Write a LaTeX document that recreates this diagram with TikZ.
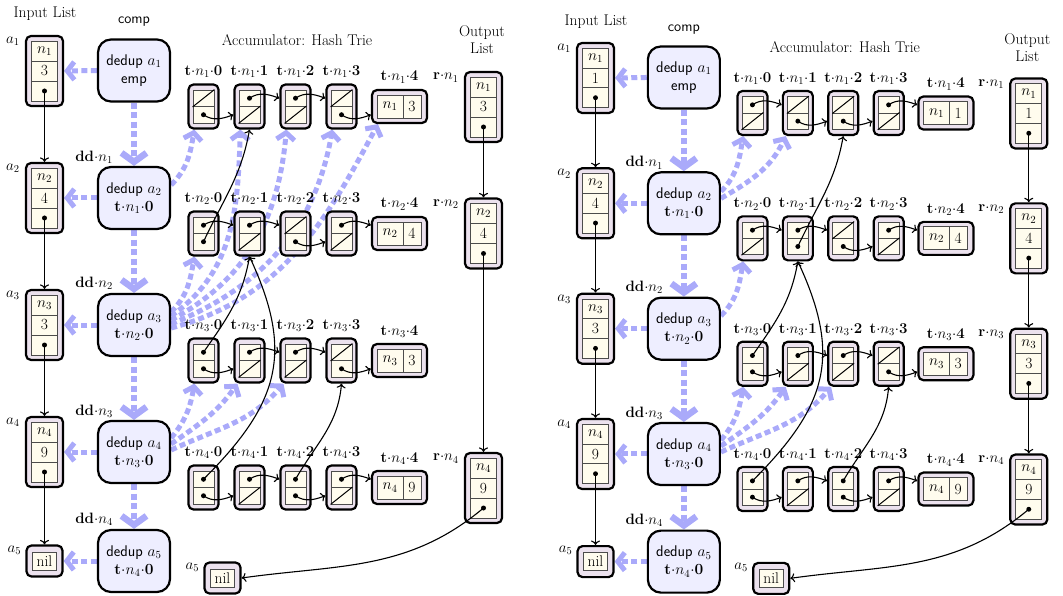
\RequirePackage{fix-cm}
\documentclass[tikz,border=0pt]{standalone}
\usetikzlibrary{arrows.meta}
\pgfdeclarelayer{bg}
\pgfsetlayers{bg,main}
\definecolor{lav}{RGB}{236,226,238}
\definecolor{cream}{RGB}{255,252,238}
\definecolor{ddfill}{RGB}{238,238,255}
\definecolor{dblue}{RGB}{170,170,250}
\tikzset{
  obox/.style={draw,line width=2.2pt,rounded corners=5pt,fill=lav,inner sep=0pt},
  cellst/.style={draw=black!70,line width=0.8pt,fill=cream,inner sep=0pt,font=\fontsize{15.5}{15.5}\selectfont},
  ddbox/.style={draw,line width=2.2pt,rounded corners=13pt,fill=ddfill,minimum width=72pt,minimum height=62pt,align=center,inner sep=0pt,font=\sffamily\fontsize{15.5}{18}\selectfont},
  lbl/.style={inner sep=0pt,font=\fontsize{15}{16}\selectfont},
  ttl/.style={inner sep=0pt,align=center,font=\fontsize{15.5}{17}\selectfont},
  ptr/.style={line width=1.1pt,-{To[length=4.5pt,width=9pt]}},
  dsh/.style={draw=dblue,line width=5pt,dash pattern=on 6pt off 3.5pt,-{Straight Barb[length=7pt,width=18pt]}},
  dshv/.style={dsh,line width=6.5pt,-{Straight Barb[length=9pt,width=25pt]}},
  slashst/.style={line width=1pt},
}
\newcommand\tlab[2]{$\mathbf{t}{\cdot}n_{#1}{\cdot}\mathbf{#2}$}
\newcommand\rlab[1]{$\mathbf{r}{\cdot}n_{#1}$}
% list box: name, x, y, side label, n index, value
\newcommand\listbox[6]{%
  \node[obox,minimum width=37pt,minimum height=70pt] (#1) at (#2,-#3) {};
  \node[cellst,minimum width=26pt,minimum height=20pt] (#1-h) at (#2,-#3+20) {$n_{#5}$};
  \node[cellst,minimum width=26pt,minimum height=20pt] (#1-v) at (#2,-#3) {#6};
  \node[cellst,minimum width=26pt,minimum height=20pt] (#1-p) at (#2,-#3-20) {};
  \fill (#1-p.center) circle (2.5pt);
  \node[lbl,anchor=north east] (#1-l) at ([xshift=-5pt,yshift=-2pt]#1.north west) {#4};
}
\newcommand\nilbox[4]{%
  \node[obox,minimum width=36pt,minimum height=31pt] (#1) at (#2,-#3) {};
  \node[cellst,minimum width=24pt,minimum height=18pt] (#1-c) at (#2,-#3) {nil};
  \node[lbl,anchor=north east] (#1-l) at ([xshift=-4pt,yshift=-1pt]#1.north west) {#4};
}
% trie node: name, x, y, label, top (1 dot / 0 slash), bottom
\newcommand\tnode[6]{%
  \node[obox,minimum width=30pt,minimum height=44pt] (#1) at (#2,-#3) {};
  \node[cellst,minimum width=21pt,minimum height=16.5pt] (#1-a) at (#2,-#3+8.25) {};
  \node[cellst,minimum width=21pt,minimum height=16.5pt] (#1-b) at (#2,-#3-8.25) {};
  \ifnum#5=1\relax \fill (#1-a.center) circle (2.5pt);\else \draw[slashst] (#1-a.south west) -- (#1-a.north east);\fi
  \ifnum#6=1\relax \fill (#1-b.center) circle (2.5pt);\else \draw[slashst] (#1-b.south west) -- (#1-b.north east);\fi
  \node[lbl,anchor=base] (#1-l) at (#2,-#3+22+9) {#4};
}
% leaf: name, x, y, label, n index, value
\newcommand\tleaf[6]{%
  \node[obox,minimum width=55pt,minimum height=33pt] (#1) at (#2,-#3) {};
  \node[cellst,minimum width=26pt,minimum height=23pt] (#1-h) at (#2-9.5,-#3) {$n_{#5}$};
  \node[cellst,minimum width=18pt,minimum height=23pt] (#1-v) at (#2+12.5,-#3) {#6};
  \node[lbl,anchor=base] (#1-l) at (#2,-#3+16.5+9) {#4};
}
\newcommand\panel[5]{%
  \node[ttl] (#1-tin) at (45,-14) {Input List};
  \node[lbl,font=\sffamily\fontsize{14.5}{16}\selectfont] (#1-tcomp) at (134,-22) {comp};
  \node[ttl] (#1-tacc) at (297,-40) {Accumulator: Hash Trie};
  \node[ttl] (#1-tout) at (482,-40) {Output\\List};
  \listbox{#1a1}{44.5}{71}{$a_1$}{1}{#2}
  \listbox{#1a2}{44.5}{198}{$a_2$}{2}{#3}
  \listbox{#1a3}{44.5}{325}{$a_3$}{3}{#4}
  \listbox{#1a4}{44.5}{452}{$a_4$}{4}{#5}
  \nilbox{#1a5}{44.5}{561}{$a_5$}
  \node[ddbox] (#1d1) at (134,-70.5) {dedup $a_1$\\emp};
  \node[ddbox] (#1d2) at (134,-198) {dedup $a_2$\\\tlab{1}{0}};
  \node[ddbox] (#1d3) at (134,-325) {dedup $a_3$\\\tlab{2}{0}};
  \node[ddbox] (#1d4) at (134,-452) {dedup $a_4$\\\tlab{3}{0}};
  \node[ddbox] (#1d5) at (134,-561) {dedup $a_5$\\\tlab{4}{0}};
  \node[lbl,anchor=east] (#1dd1) at (113,-157) {$\mathbf{dd}{\cdot}n_1$};
  \node[lbl,anchor=east] (#1dd2) at (113,-283) {$\mathbf{dd}{\cdot}n_2$};
  \node[lbl,anchor=east] (#1dd3) at (113,-411) {$\mathbf{dd}{\cdot}n_3$};
  \node[lbl,anchor=east] (#1dd4) at (113,-519) {$\mathbf{dd}{\cdot}n_4$};
  \draw[ptr] (#1a1-p.center) -- (#1a2.north);
  \draw[ptr] (#1a2-p.center) -- (#1a3.north);
  \draw[ptr] (#1a3-p.center) -- (#1a4.north);
  \draw[ptr] (#1a4-p.center) -- (#1a5.north);
  \begin{pgfonlayer}{bg}
    \draw[dsh] (#1d1.west) -- (#1a1.east);
    \draw[dsh] (#1d2.west) -- (#1a2.east);
    \draw[dsh] (#1d3.west) -- (#1a3.east);
    \draw[dsh] (#1d4.west) -- (#1a4.east);
    \draw[dsh] (#1d5.west) -- (#1a5.east);
    \draw[dshv] (#1d1.south) -- (#1d2.north);
    \draw[dshv] (#1d2.south) -- (#1d3.north);
    \draw[dshv] (#1d3.south) -- (#1d4.north);
    \draw[dshv] (#1d4.south) -- (#1d5.north);
  \end{pgfonlayer}
}
\begin{document}
\begin{tikzpicture}[x=1pt,y=1pt]
\useasboundingbox (0,0) rectangle (1063,-596);
% ================= LEFT PANEL =================
\panel{L}{3}{4}{3}{9}
\tnode{L10}{203.5}{106.5}{\tlab{1}{0}}{0}{1}
\tnode{L11}{249.5}{106.5}{\tlab{1}{1}}{1}{0}
\tnode{L12}{295.5}{106.5}{\tlab{1}{2}}{1}{0}
\tnode{L13}{341.5}{106.5}{\tlab{1}{3}}{0}{1}
\tleaf{L14}{399.5}{106.5}{\tlab{1}{4}}{1}{3}
\tnode{L20}{203.5}{233.5}{\tlab{2}{0}}{1}{1}
\tnode{L21}{249.5}{233.5}{\tlab{2}{1}}{1}{0}
\tnode{L22}{295.5}{233.5}{\tlab{2}{2}}{0}{1}
\tnode{L23}{341.5}{233.5}{\tlab{2}{3}}{1}{0}
\tleaf{L24}{399.5}{233.5}{\tlab{2}{4}}{2}{4}
\tnode{L30}{203.5}{360.5}{\tlab{3}{0}}{1}{1}
\tnode{L31}{249.5}{360.5}{\tlab{3}{1}}{1}{0}
\tnode{L32}{295.5}{360.5}{\tlab{3}{2}}{1}{0}
\tnode{L33}{341.5}{360.5}{\tlab{3}{3}}{0}{1}
\tleaf{L34}{399.5}{360.5}{\tlab{3}{4}}{3}{3}
\tnode{L40}{203.5}{487.5}{\tlab{4}{0}}{1}{1}
\tnode{L41}{249.5}{487.5}{\tlab{4}{1}}{1}{0}
\tnode{L42}{295.5}{487.5}{\tlab{4}{2}}{1}{1}
\tnode{L43}{341.5}{487.5}{\tlab{4}{3}}{1}{0}
\tleaf{L44}{399.5}{487.5}{\tlab{4}{4}}{4}{9}
\listbox{Lr1}{483.5}{107}{\rlab{1}}{1}{3}
\listbox{Lr2}{483.5}{233.5}{\rlab{2}}{2}{4}
\listbox{Lr4}{483.5}{488}{\rlab{4}}{4}{9}
\nilbox{Lnil}{222.5}{578}{$a_5$}
% row pointers
\draw[ptr] (L10-b.center) to[out=-35,in=-160] (L11.west |- L10-b.center);
\draw[ptr] (L11-a.center) to[out=35,in=160] (L12.west |- L11-a.center);
\draw[ptr] (L12-a.center) to[out=35,in=160] (L13.west |- L12-a.center);
\draw[ptr] (L13-b.center) to[out=-35,in=-160] (L14.west |- L13-b.center);
\draw[ptr] (L20-a.center) to[out=35,in=160] (L21.west |- L20-a.center);
\draw[ptr] (L21-a.center) to[out=35,in=160] (L22.west |- L21-a.center);
\draw[ptr] (L22-b.center) to[out=-35,in=-160] (L23.west |- L22-b.center);
\draw[ptr] (L23-a.center) to[out=35,in=160] (L24.west |- L23-a.center);
\draw[ptr] (L30-b.center) to[out=-35,in=-160] (L31.west |- L30-b.center);
\draw[ptr] (L31-a.center) to[out=35,in=160] (L32.west |- L31-a.center);
\draw[ptr] (L32-a.center) to[out=35,in=160] (L33.west |- L32-a.center);
\draw[ptr] (L33-b.center) to[out=-35,in=-160] (L34.west |- L33-b.center);
\draw[ptr] (L40-b.center) to[out=-35,in=-160] (L41.west |- L40-b.center);
\draw[ptr] (L41-a.center) to[out=35,in=160] (L42.west |- L41-a.center);
\draw[ptr] (L42-b.center) to[out=-35,in=-160] (L43.west |- L42-b.center);
\draw[ptr] (L43-a.center) to[out=35,in=160] (L44.west |- L43-a.center);
% shared pointers
\draw[ptr] (L20-b.center) to[out=65,in=-100] (L11.south);
\draw[ptr] (L30-a.center) to[out=55,in=-100] (L21.south);
\draw[ptr] (L40-a.center) to[out=45,in=-65,looseness=1.2] (L21.south);
\draw[ptr] (L42-a.center) to[out=60,in=-95] (L33.south);
% output list
\draw[ptr] (Lr1-p.center) -- (Lr2.north);
\draw[ptr] (Lr2-p.center) -- (Lr4.north);
\draw[ptr] (Lr4-p.center) to[out=-140,in=8] (Lnil.east);
\begin{pgfonlayer}{bg}
  \draw[dsh] ([yshift=13pt]Ld2.east) to[out=45,in=-100] ([xshift=7pt]L10.south west);
  \draw[dsh] ([yshift=13pt]Ld3.east) to[out=45,in=-100] ([xshift=7pt]L20.south west);
  \draw[dsh] ([yshift=9pt]Ld3.east) to[out=35,in=-92] ([xshift=7pt]L11.south west);
  \draw[dsh] ([yshift=5pt]Ld3.east) to[out=28,in=-95] ([xshift=7pt]L12.south west);
  \draw[dsh] ([yshift=1pt]Ld3.east) to[out=22,in=-100] ([xshift=7pt]L13.south west);
  \draw[dsh] ([yshift=-3pt]Ld3.east) to[out=15,in=-118] ([xshift=7pt]L14.south west);
  \draw[dsh] ([yshift=14pt]Ld4.east) to[out=50,in=-100] ([xshift=7pt]L30.south west);
  \draw[dsh] ([yshift=8pt]Ld4.east) to[out=35,in=-125] ([xshift=4pt]L31.south west);
  \draw[dsh] ([yshift=2pt]Ld4.east) to[out=25,in=-130] ([xshift=4pt]L32.south west);
\end{pgfonlayer}
% ================= RIGHT PANEL =================
\begin{scope}[shift={(551.6,-7.9)},scale=0.987]
\panel{R}{1}{4}{3}{9}
\tnode{R10}{203.5}{106.5}{\tlab{1}{0}}{1}{0}
\tnode{R11}{249.5}{106.5}{\tlab{1}{1}}{0}{1}
\tnode{R12}{295.5}{106.5}{\tlab{1}{2}}{0}{1}
\tnode{R13}{341.5}{106.5}{\tlab{1}{3}}{1}{0}
\tleaf{R14}{399.5}{106.5}{\tlab{1}{4}}{1}{1}
\tnode{R20}{203.5}{233.5}{\tlab{2}{0}}{1}{0}
\tnode{R21}{249.5}{233.5}{\tlab{2}{1}}{1}{1}
\tnode{R22}{295.5}{233.5}{\tlab{2}{2}}{0}{1}
\tnode{R23}{341.5}{233.5}{\tlab{2}{3}}{1}{0}
\tleaf{R24}{399.5}{233.5}{\tlab{2}{4}}{2}{4}
\tnode{R30}{203.5}{360.5}{\tlab{3}{0}}{1}{1}
\tnode{R31}{249.5}{360.5}{\tlab{3}{1}}{1}{0}
\tnode{R32}{295.5}{360.5}{\tlab{3}{2}}{1}{0}
\tnode{R33}{341.5}{360.5}{\tlab{3}{3}}{0}{1}
\tleaf{R34}{399.5}{360.5}{\tlab{3}{4}}{3}{3}
\tnode{R40}{203.5}{487.5}{\tlab{4}{0}}{1}{1}
\tnode{R41}{249.5}{487.5}{\tlab{4}{1}}{1}{0}
\tnode{R42}{295.5}{487.5}{\tlab{4}{2}}{1}{1}
\tnode{R43}{341.5}{487.5}{\tlab{4}{3}}{1}{0}
\tleaf{R44}{399.5}{487.5}{\tlab{4}{4}}{4}{9}
\listbox{Rr1}{483.5}{107}{\rlab{1}}{1}{1}
\listbox{Rr2}{483.5}{233.5}{\rlab{2}}{2}{4}
\listbox{Rr3}{483.5}{360.5}{\rlab{3}}{3}{3}
\listbox{Rr4}{483.5}{488}{\rlab{4}}{4}{9}
\nilbox{Rnil}{222.5}{578}{$a_5$}
\draw[ptr] (R10-a.center) to[out=35,in=160] (R11.west |- R10-a.center);
\draw[ptr] (R11-b.center) to[out=-35,in=-160] (R12.west |- R11-b.center);
\draw[ptr] (R12-b.center) to[out=-35,in=-160] (R13.west |- R12-b.center);
\draw[ptr] (R13-a.center) to[out=35,in=160] (R14.west |- R13-a.center);
\draw[ptr] (R20-a.center) to[out=35,in=160] (R21.west |- R20-a.center);
\draw[ptr] (R21-a.center) to[out=35,in=160] (R22.west |- R21-a.center);
\draw[ptr] (R22-b.center) to[out=-35,in=-160] (R23.west |- R22-b.center);
\draw[ptr] (R23-a.center) to[out=35,in=160] (R24.west |- R23-a.center);
\draw[ptr] (R30-b.center) to[out=-35,in=-160] (R31.west |- R30-b.center);
\draw[ptr] (R31-a.center) to[out=35,in=160] (R32.west |- R31-a.center);
\draw[ptr] (R32-a.center) to[out=35,in=160] (R33.west |- R32-a.center);
\draw[ptr] (R33-b.center) to[out=-35,in=-160] (R34.west |- R33-b.center);
\draw[ptr] (R40-b.center) to[out=-35,in=-160] (R41.west |- R40-b.center);
\draw[ptr] (R41-a.center) to[out=35,in=160] (R42.west |- R41-a.center);
\draw[ptr] (R42-b.center) to[out=-35,in=-160] (R43.west |- R42-b.center);
\draw[ptr] (R43-a.center) to[out=35,in=160] (R44.west |- R43-a.center);
\draw[ptr] (R21-b.center) to[out=65,in=-100] (R12.south);
\draw[ptr] (R30-a.center) to[out=55,in=-100] (R21.south);
\draw[ptr] (R40-a.center) to[out=45,in=-65,looseness=1.2] (R21.south);
\draw[ptr] (R42-a.center) to[out=60,in=-95] (R33.south);
\draw[ptr] (Rr1-p.center) -- (Rr2.north);
\draw[ptr] (Rr2-p.center) -- (Rr3.north);
\draw[ptr] (Rr3-p.center) -- (Rr4.north);
\draw[ptr] (Rr4-p.center) to[out=-140,in=8] (Rnil.east);
\begin{pgfonlayer}{bg}
  \draw[dsh] ([yshift=12pt]Rd2.east) to[out=45,in=-100] ([xshift=7pt]R10.south west);
  \draw[dsh] ([yshift=5pt]Rd2.east) to[out=30,in=-115] ([xshift=4pt]R11.south west);
  \draw[dsh] ([yshift=13pt]Rd3.east) to[out=45,in=-100] ([xshift=7pt]R20.south west);
  \draw[dsh] ([yshift=14pt]Rd4.east) to[out=50,in=-100] ([xshift=7pt]R30.south west);
  \draw[dsh] ([yshift=8pt]Rd4.east) to[out=35,in=-125] ([xshift=4pt]R31.south west);
  \draw[dsh] ([yshift=2pt]Rd4.east) to[out=25,in=-130] ([xshift=4pt]R32.south west);
\end{pgfonlayer}
\end{scope}
\end{tikzpicture}
\end{document}
